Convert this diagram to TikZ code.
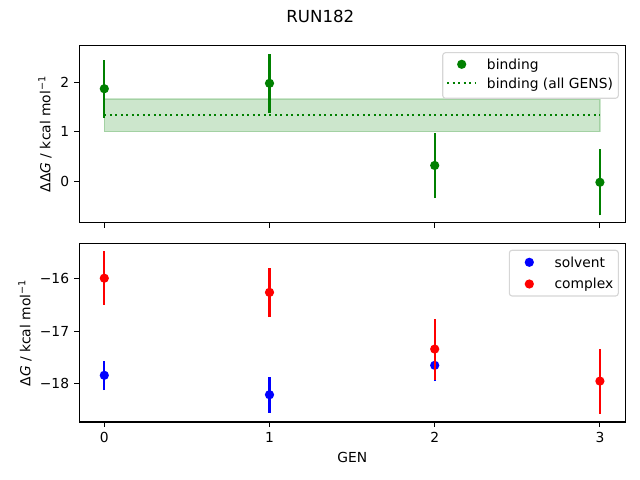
\documentclass[tikz,border=0pt]{standalone}
\usepackage{fontspec}
\setmainfont{DejaVu Sans}
\definecolor{mplgreen}{RGB}{0,128,0}
\definecolor{mplblue}{RGB}{0,0,255}
\definecolor{mplred}{RGB}{255,0,0}
\definecolor{legendedge}{RGB}{214,214,214}
\newcommand{\kcalmol}{kcal mol\textsuperscript{−1}}

\begin{document}
\begin{tikzpicture}[x=0.254mm, y=-0.254mm, font=\fontsize{10}{12}\selectfont]
  \tikzset{topaxes/.style={shift={(104.3,181.3)}, x=41.96mm, y=12.573mm},
           botaxes/.style={shift={(104.3,-561.3)}, x=41.96mm, y=13.335mm},
           axisframe/.style={line width=0.8pt},
           tickmark/.style={line width=0.8pt},
           ticklabel/.style={inner sep=0pt},
           errbar/.style={line width=1.5pt},
           dot/.style={circle, inner sep=0pt, minimum size=2.35mm},
           legendframe/.style={draw=legendedge, fill=white, line width=0.8pt, rounded corners=2pt},
           legtext/.style={anchor=base west, inner sep=0pt},
           allgens/.style={mplgreen, line width=1.5pt, dash pattern=on 1.5pt off 2.475pt}}
  \useasboundingbox (0,0) rectangle (640,480);
  \node[font=\fontsize{12}{14}\selectfont] (title) at (320.3,16.2) {RUN182};
  \begin{scope}[topaxes]
    \filldraw[fill=mplgreen, draw=mplgreen, opacity=0.2, line width=1pt] (0,1.00) rectangle (3,1.66);
    \draw[allgens] (0,1.34) -- (3,1.34);
    \foreach \g/\v/\e in {0/1.87/0.59, 1/1.98/0.60, 2/0.32/0.66, 3/-0.02/0.67}{
      \draw[errbar, mplgreen] (\g,{\v-\e}) -- (\g,{\v+\e});
      \node[dot, fill=mplgreen] (bind\g) at (\g,\v) {};
    }
    \draw[axisframe] (-0.1513,-0.8364) rectangle (3.1538,2.7475);
    \foreach \g in {0,...,3}
      \draw[tickmark] (\g,-0.8364) -- ++(0,-3.5pt);
    \foreach \v in {0,1,2}
      \draw[tickmark] (-0.1513,\v) -- ++(-3.5pt,0) node[left=3.5pt, ticklabel] (ytop\v) {\v};
  \end{scope}
  \begin{scope}[botaxes]
    \foreach \g/\v/\e in {0/-17.84/0.28, 1/-18.21/0.34, 2/-17.65/0.30}{
      \draw[errbar, mplblue] (\g,{\v-\e}) -- (\g,{\v+\e});
      \node[dot, fill=mplblue] (solv\g) at (\g,\v) {};
    }
    \foreach \g/\v/\e in {0/-15.99/0.51, 1/-16.26/0.47, 2/-17.34/0.58, 3/-17.95/0.62}{
      \draw[errbar, mplred] (\g,{\v-\e}) -- (\g,{\v+\e});
      \node[dot, fill=mplred] (cplx\g) at (\g,\v) {};
    }
    \draw[axisframe] (-0.1513,-18.7295) rectangle (3.1538,-15.3333);
    \foreach \g in {0,...,3}
      \draw[tickmark] (\g,-18.7295) -- ++(0,-3.5pt) node[below=3.5pt, ticklabel] (xt\g) {\g};
    \foreach \v/\t in {-16/−16, -17/−17, -18/−18}
      \draw[tickmark] (-0.1513,\v) -- ++(-3.5pt,0) node[left=3.5pt, ticklabel] (ybot\t) {\t};
  \end{scope}
  \node[rotate=90] (ylabtop) at (45,134) {ΔΔ\textit{G} / \kcalmol};
  \node[rotate=90] (ylabbot) at (25,332.9) {Δ\textit{G} / \kcalmol};
  \node (xlab) at (352.3,457.5) {GEN};
  \draw[legendframe] (442.7,52.7) rectangle (618.3,98.3);
  \node[dot, fill=mplgreen] (legbind) at (461.7,64.3) {};
  \node[legtext] (legbindtxt) at (486.7,69.1) {binding};
  \coordinate (legallA) at (447,83.3);
  \coordinate (legallB) at (475,83.3);
  \draw[allgens] (legallA) -- (legallB);
  \node[legtext] (legalltxt) at (486.7,88.1) {binding (all GENS)};
  \draw[legendframe] (509.3,250.3) rectangle (618.3,296);
  \node[dot, fill=mplblue] (legsolv) at (529.3,262.3) {};
  \node[legtext] (legsolvtxt) at (554.3,267.1) {solvent};
  \node[dot, fill=mplred] (legcplx) at (529.3,284) {};
  \node[legtext] (legcplxtxt) at (554.3,288.8) {complex};
\end{tikzpicture}
\end{document}
